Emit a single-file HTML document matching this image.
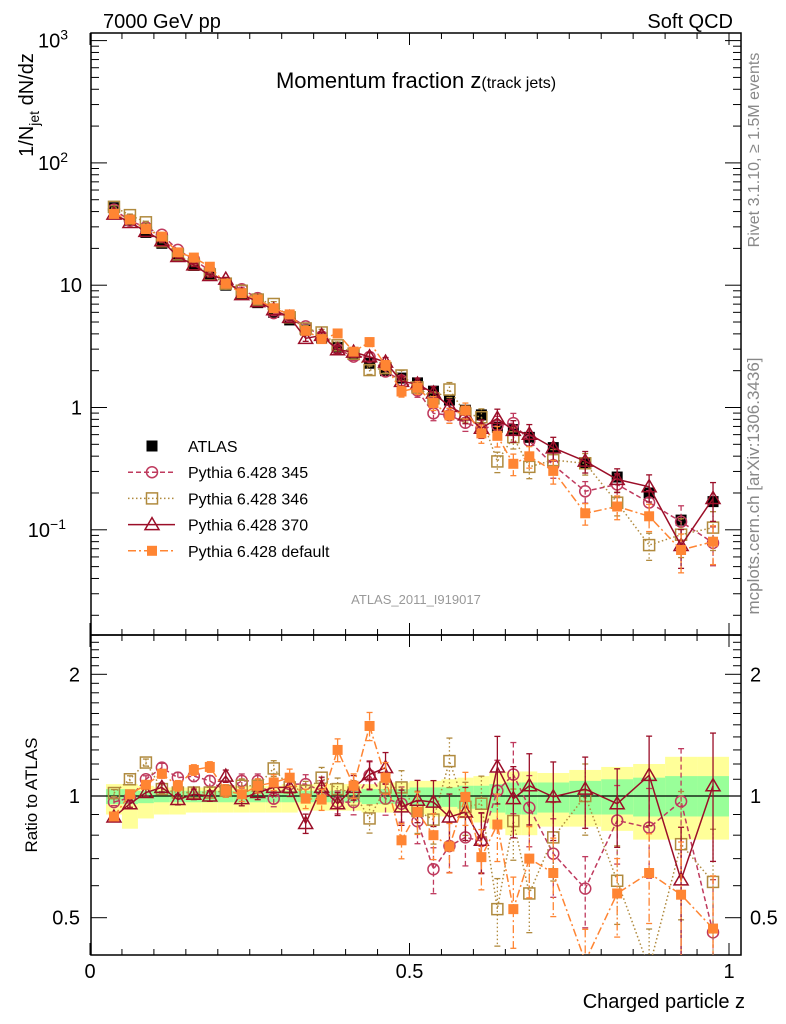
<!DOCTYPE html>
<html><head><meta charset="utf-8"><style>
body{margin:0;background:#fff;}
svg{display:block;font-family:"Liberation Sans",sans-serif;}
</style></head><body>
<svg id="plot" width="786" height="1024" viewBox="0 0 786 1024" xmlns="http://www.w3.org/2000/svg">
<defs>
<clipPath id="cm"><rect x="91" y="33" width="650" height="602"/></clipPath>
<clipPath id="cr"><rect x="91" y="635" width="650" height="320"/></clipPath>
</defs>
<rect x="0" y="0" width="786" height="1024" fill="#fff"/>
<g id="bands" clip-path="url(#cr)"></g>
<g id="axes"></g>
<g id="mainMarks" clip-path="url(#cm)"></g>
<g id="ratioMarks" clip-path="url(#cr)"></g>
<g id="legend"></g>
<text x="103" y="28" font-size="20">7000 GeV pp</text>
<text x="733" y="28" font-size="20" text-anchor="end">Soft QCD</text>
<text x="416" y="88" text-anchor="middle"><tspan font-size="22">Momentum fraction z</tspan><tspan font-size="16">(track jets)</tspan></text>
<text x="416" y="604" font-size="13" fill="#999" text-anchor="middle">ATLAS_2011_I919017</text>
<text transform="translate(759,150) rotate(-90)" font-size="16" fill="#888" text-anchor="middle">Rivet 3.1.10, ≥ 1.5M events</text>
<text transform="translate(759,486) rotate(-90)" font-size="17" fill="#888" text-anchor="middle">mcplots.cern.ch [arXiv:1306.3436]</text>
<text transform="translate(33,105) rotate(-90)" font-size="20" text-anchor="middle">1/N<tspan font-size="14" dy="6">jet</tspan><tspan dy="-6"> dN/dz</tspan></text>
<text transform="translate(37,795) rotate(-90)" font-size="17" text-anchor="middle">Ratio to ATLAS</text>
<text x="745" y="1008" font-size="20" text-anchor="end">Charged particle z</text>
</svg>
<script>
const zVals=[0.0375,0.0625,0.0875,0.1125,0.1375,0.1625,0.1875,0.2125,0.2375,0.2625,0.2875,0.3125,0.3375,0.3625,0.3875,0.4125,0.4375,0.4625,0.4875,0.5125,0.5375,0.5625,0.5875,0.6125,0.6375,0.6625,0.6875,0.725,0.775,0.825,0.875,0.925,0.975];
const binWidth=[0.025,0.025,0.025,0.025,0.025,0.025,0.025,0.025,0.025,0.025,0.025,0.025,0.025,0.025,0.025,0.025,0.025,0.025,0.025,0.025,0.025,0.025,0.025,0.025,0.025,0.025,0.025,0.05,0.05,0.05,0.05,0.05,0.05];
const atlas=[43,34,27,22,17.5,14.5,12,10,8.5,7.2,6.0,5.2,4.3,3.7,3.1,2.7,2.3,2.0,1.74,1.59,1.36,1.15,0.95,0.87,0.69,0.66,0.57,0.47,0.35,0.27,0.20,0.12,0.17];
const r345=[0.966,0.99,1.10,1.175,1.11,1.12,1.09,1.03,1.09,1.09,0.985,1.07,1.07,1.03,0.966,0.966,1.125,0.985,0.957,0.866,0.659,0.752,0.79,0.774,1.03,1.13,0.936,0.72,0.59,0.87,0.835,0.97,0.46];
const r346=[1.017,1.10,1.21,1.04,1.02,1.02,1.02,1.03,1.06,1.06,1.17,1.05,1.03,1.11,1.04,1.02,0.88,1.05,1.05,0.918,0.874,1.22,0.94,0.957,0.525,0.867,0.574,0.79,1.0,0.617,0.375,0.76,0.613];
const r370=[0.887,0.957,1.02,1.05,0.98,1.01,1.0,1.12,0.985,1.02,1.05,1.05,0.855,1.05,0.957,1.05,1.13,1.175,0.94,0.976,0.966,0.887,0.913,0.777,1.18,0.985,1.06,0.995,1.04,0.957,1.125,0.62,1.06];
const rDef=[0.89,1.01,1.066,1.135,1.06,1.16,1.18,1.03,1.01,1.06,1.08,1.11,0.985,0.98,1.30,1.06,1.49,1.11,0.777,0.913,0.80,0.75,0.995,0.706,0.85,0.525,0.70,0.645,0.39,0.574,0.645,0.57,0.47];
const mcErr=[0.02,0.02,0.02,0.025,0.03,0.03,0.03,0.035,0.04,0.04,0.045,0.05,0.055,0.06,0.065,0.07,0.08,0.09,0.1,0.12,0.13,0.14,0.15,0.17,0.19,0.2,0.2,0.22,0.2,0.22,0.25,0.35,0.35];
const yelUp=[0.07,0.07,0.06,0.05,0.05,0.05,0.05,0.06,0.06,0.06,0.06,0.07,0.07,0.07,0.07,0.07,0.07,0.08,0.08,0.09,0.09,0.10,0.11,0.12,0.14,0.15,0.15,0.14,0.16,0.18,0.20,0.25,0.25];
const yelDn=[0.10,0.17,0.12,0.10,0.10,0.09,0.09,0.09,0.09,0.09,0.09,0.09,0.08,0.08,0.08,0.08,0.09,0.09,0.09,0.10,0.11,0.11,0.12,0.14,0.17,0.20,0.20,0.16,0.16,0.18,0.22,0.22,0.22];
const grnUp=[0.04,0.04,0.03,0.03,0.03,0.03,0.03,0.03,0.03,0.03,0.03,0.03,0.03,0.03,0.03,0.03,0.04,0.04,0.04,0.05,0.05,0.05,0.06,0.06,0.07,0.08,0.08,0.08,0.09,0.10,0.11,0.12,0.12];
const grnDn=[0.045,0.045,0.04,0.035,0.035,0.035,0.035,0.035,0.035,0.035,0.035,0.035,0.035,0.035,0.035,0.035,0.045,0.045,0.045,0.055,0.06,0.06,0.07,0.07,0.09,0.1,0.1,0.09,0.1,0.1,0.11,0.11,0.11];
const legendLabels=["ATLAS","Pythia 6.428 345","Pythia 6.428 346","Pythia 6.428 370","Pythia 6.428 default"];

const NS="http://www.w3.org/2000/svg";
const X=z=>90+639*z;
const Y=v=>407.5-122.3*Math.log10(v);
const R=r=>796-121.7*Math.log2(r);
function mk(tag,attrs,parent){const e=document.createElementNS(NS,tag);for(const k in attrs)e.setAttribute(k,attrs[k]);parent.appendChild(e);return e;}
const axes=document.getElementById('axes');
const bands=document.getElementById('bands');
const mm=document.getElementById('mainMarks');
const rm=document.getElementById('ratioMarks');
const lg=document.getElementById('legend');

zVals.forEach((z,i)=>{
  const x0=X(z-binWidth[i]/2),x1=X(z+binWidth[i]/2);
  const y=mk('rect',{x:x0,y:R(1+yelUp[i]),width:x1-x0,height:R(1-yelDn[i])-R(1+yelUp[i]),fill:'#ffff99'},bands);
  
  
  const g=mk('rect',{x:x0,y:R(1+grnUp[i]),width:x1-x0,height:R(1-grnDn[i])-R(1+grnUp[i]),fill:'#99ff99'},bands);
  
  
});
const ul=mk('line',{x1:91,x2:741,y1:R(1),y2:R(1),stroke:'#000','stroke-width':1.2},axes);



[[33,635],[635,955]].forEach(([t,b],k)=>{
  const f=mk('rect',{x:91,y:t,width:650,height:b-t,fill:'none',stroke:'#000','stroke-width':1.5},axes);
  
  
});
for(let k=0;k<=20;k++){
  const z=k*0.05,x=X(z);const L=(k%10==0)?12:6;
  [[635,-1],[33,1],[955,-1],[635,1]].forEach(([y0,d])=>{mk('line',{x1:x,x2:x,y1:y0,y2:y0+d*L,stroke:'#000','stroke-width':1},axes);});
}
[["0",0],["0.5",0.5],["1",1]].forEach(([t,z])=>{
  const e=mk('text',{x:X(z),y:978,'font-size':20,'text-anchor':'middle'},axes);e.textContent=t;
  
  
});
for(let d=-2;d<=3;d++){for(let m=1;m<10;m++){
  const v=m*Math.pow(10,d);const y=Y(v);if(y<33||y>635)continue;const L=m==1?16:8;
  mk('line',{x1:91,x2:91+L,y1:y,y2:y,stroke:'#000','stroke-width':1},axes);
  mk('line',{x1:741,x2:741-L,y1:y,y2:y,stroke:'#000','stroke-width':1},axes);
}}
[[3,"10","3"],[2,"10","2"],[1,"10",""],[0,"1",""],[-1,"10","−1"]].forEach(([d,b,s])=>{
  const e=mk('text',{x:s?(d==-1?66:68):82,y:Y(Math.pow(10,d))+7,'font-size':20,'text-anchor':'end'},axes);
  e.textContent=b;
  if(s){const t=mk('tspan',{'font-size':14,dy:-8},e);t.textContent=s;}
  
  
});
const rt=[0.4,0.5,0.6,0.7,0.8,0.9,1,1.1,1.2,1.3,1.4,1.5,1.6,1.7,1.8,1.9,2,2.1,2.2,2.3,2.4,2.5];
rt.forEach(r=>{const y=R(r);if(y<635||y>955)return;const L=(r==0.5||r==1||r==2)?16:8;
  mk('line',{x1:91,x2:91+L,y1:y,y2:y,stroke:'#000','stroke-width':1},axes);
  mk('line',{x1:741,x2:741-L,y1:y,y2:y,stroke:'#000','stroke-width':1},axes);});
[["2",2],["1",1],["0.5",0.5]].forEach(([t,r])=>{
  [[80,'end'],[750,'start']].forEach(([x,a])=>{
    const e=mk('text',{x:x,y:R(r)+7,'font-size':20,'text-anchor':a},axes);e.textContent=t;
    
    
  });
});

const series=[
 {name:'pythia-345',r:r345,c:'#bf3a5e',dash:'5,3',m:'circle'},
 {name:'pythia-346',r:r346,c:'#b08a3e',dash:'1.5,2.5',m:'osq'},
 {name:'pythia-370',r:r370,c:'#9b0e28',dash:'',m:'tri'},
 {name:'pythia-default',r:rDef,c:'#ff8533',dash:'8,3,2,3',m:'fsq'}
];
function marker(type,x,y,c,parent){
  let e;
  if(type=='circle')e=mk('circle',{cx:x,cy:y,r:5.5,fill:'#fff','fill-opacity':0,stroke:c,'stroke-width':1.5},parent);
  else if(type=='osq')e=mk('rect',{x:x-5.5,y:y-5.5,width:11,height:11,fill:'none',stroke:c,'stroke-width':1.5},parent);
  else if(type=='tri')e=mk('polygon',{points:`${x},${y-7} ${x-7},${y+5} ${x+7},${y+5}`,fill:'none',stroke:c,'stroke-width':1.5},parent);
  else if(type=='fsq')e=mk('rect',{x:x-5,y:y-5,width:10,height:10,fill:c},parent);
  else e=mk('rect',{x:x-5.5,y:y-5.5,width:11,height:11,fill:'#000'},parent);
  return e;
}
function errbar(x,y1,y2,c,dash,parent){
  mk('line',{x1:x,x2:x,y1:y1,y2:y2,stroke:c,'stroke-width':1.3,'stroke-dasharray':dash},parent);
  mk('line',{x1:x-3,x2:x+3,y1:y1,y2:y1,stroke:c,'stroke-width':1.3},parent);
  mk('line',{x1:x-3,x2:x+3,y1:y2,y2:y2,stroke:c,'stroke-width':1.3},parent);
}
zVals.forEach((z,i)=>{const e=marker('atlas',X(z),Y(atlas[i]),'#000',mm);
  
  });
series.forEach(s=>{
  const gm=mk('g',{},mm);
  const gr=mk('g',{},rm);
  const pm=zVals.map((z,i)=>X(z)+','+Y(atlas[i]*s.r[i])).join(' ');
  const pr=zVals.map((z,i)=>X(z)+','+R(s.r[i])).join(' ');
  const lm=mk('polyline',{points:pm,fill:'none',stroke:s.c,'stroke-width':1.5,'stroke-dasharray':s.dash},gm);
  
  
  const lr=mk('polyline',{points:pr,fill:'none',stroke:s.c,'stroke-width':1.5,'stroke-dasharray':s.dash},gr);
  
  
  zVals.forEach((z,i)=>{
    const v=atlas[i]*s.r[i],e=mcErr[i];
    errbar(X(z),Y(v*(1+e)),Y(v*(1-e)),s.c,s.dash,gm);
    errbar(X(z),R(s.r[i]*(1+e)),R(s.r[i]*(1-e)),s.c,s.dash,gr);
    const a=marker(s.m,X(z),Y(v),s.c,gm);
    
    
    const b=marker(s.m,X(z),R(s.r[i]),s.c,gr);
    
    
  });
});
const lgStyles=[{m:'atlas',c:'#000',dash:null},...series];
legendLabels.forEach((t,i)=>{
  const y=446+i*26.2;
  const g=mk('g',{},lg);
  
  
  const s=lgStyles[i];
  if(i>0)mk('line',{x1:128,x2:175,y1:y,y2:y,stroke:s.c,'stroke-width':1.5,'stroke-dasharray':s.dash},g);
  marker(s.m,152,y,s.c,g);
  const e=mk('text',{x:188,y:y+6,'font-size':16},g);e.textContent=t;
});
</script>
</body></html>
